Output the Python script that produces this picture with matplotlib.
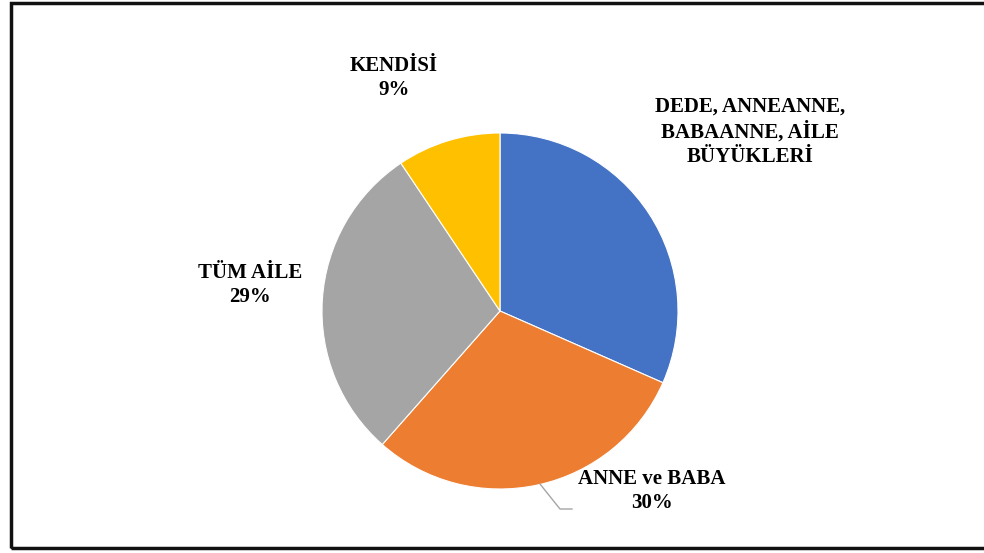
import matplotlib.pyplot as plt
from matplotlib.patches import Rectangle

categories = ["DEDE, ANNEANNE,\nBABAANNE, AİLE\nBÜYÜKLERİ", "ANNE ve BABA", "TÜM AİLE", "KENDİSİ"]
values = [31.6, 29.9, 29.1, 9.4]
colors = ["#4472C4", "#ED7D31", "#A5A5A5", "#FFC000"]
show_pct = [False, True, True, True]

W, H = 984, 553
fig = plt.figure(figsize=(W / 100, H / 100), dpi=100)
ax = fig.add_axes([0, 0, 1, 1])
ax.set_xlim(0, W)
ax.set_ylim(0, H)
ax.set_aspect('equal')
ax.axis('off')

# pie centre / radius in pixels (y measured from the bottom)
cx, cy, r = 500, H - 311, 178
ax.pie(values, colors=colors, startangle=90, counterclock=False,
       center=(cx, cy), radius=r,
       wedgeprops=dict(edgecolor='white', linewidth=0.8))
ax.set_xlim(0, W)
ax.set_ylim(0, H)

# label positions (pixels from top-left)
label_pos = [(750, 132), (652, 491), (250, 285), (394, 78)]
for cat, v, pct, (x, y) in zip(categories, values, show_pct, label_pos):
    txt = f"{cat}\n{v:.0f}%" if pct else cat
    ax.text(x, H - y, txt, ha='center', va='center', fontsize=15,
            fontweight='bold', family='Liberation Serif', linespacing=1.3,
            color='black')

# leader line for ANNE ve BABA
ax.plot([540, 560, 572], [H - 484, H - 509, H - 509], color='#A5A5A5', lw=1)

# frame
ax.add_patch(Rectangle((10.5, H - 547.5), 990, 544.5, fill=False,
                       edgecolor='#111111', lw=2.5, clip_on=False))

fig.savefig("out.png", dpi=100)
